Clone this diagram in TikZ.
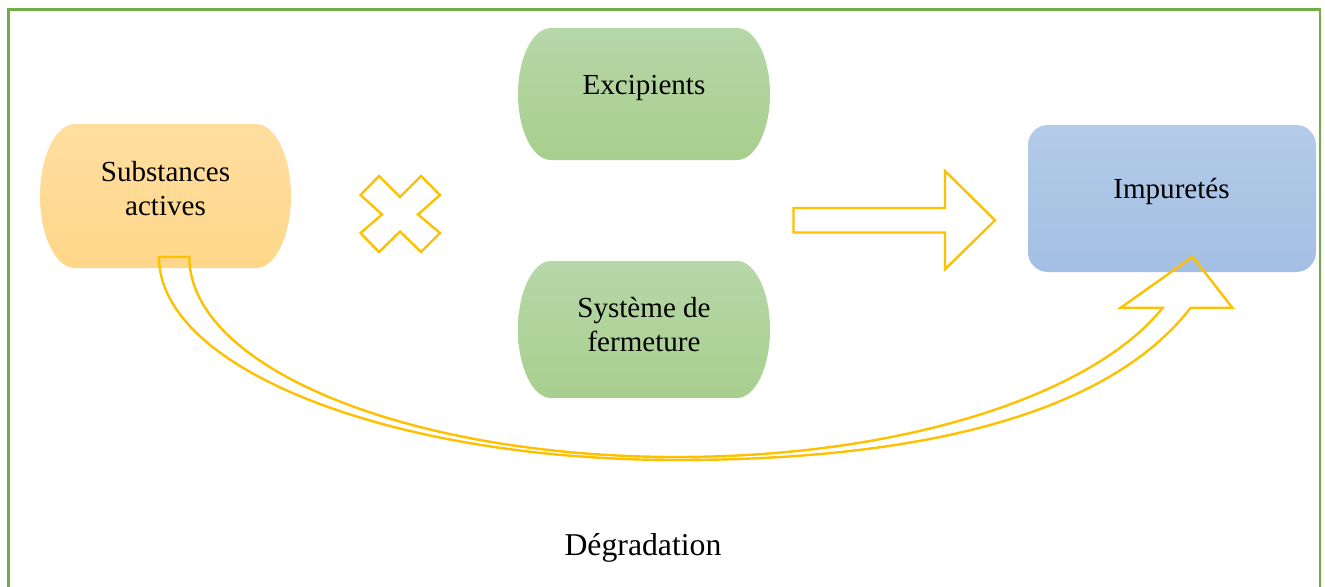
\documentclass[tikz,border=0pt]{standalone}
\usepackage{fontspec}
\setmainfont{Liberation Serif}
\begin{document}
% capsule: flat top and bottom, half-ellipse ends
% #1 style, #2 x1, #3 y1, #4 x2, #5 y2, #6 horizontal radius of the ends
\newcommand\capsule[6]{%
  \path[#1] ({#2+#6},#3) -- ({#4-#6},#3)
    .. controls ({#4-0.448*#6},#3) and (#4,{#3+0.224*(#5-#3)}) .. (#4,{(#3+#5)/2})
    .. controls (#4,{#5-0.224*(#5-#3)}) and ({#4-0.448*#6},#5) .. ({#4-#6},#5)
    -- ({#2+#6},#5)
    .. controls ({#2+0.448*#6},#5) and (#2,{#5-0.224*(#5-#3)}) .. (#2,{(#3+#5)/2})
    .. controls (#2,{#3+0.224*(#5-#3)}) and ({#2+0.448*#6},#3) .. cycle;}
\definecolor{frameg}{HTML}{70AD47}
\definecolor{arrowy}{HTML}{FFC000}
\definecolor{orangeT}{HTML}{FFDEA0}
\definecolor{orangeB}{HTML}{FFD78A}
\definecolor{greenT}{HTML}{B6D7A8}
\definecolor{greenB}{HTML}{A8CF8E}
\definecolor{blueT}{HTML}{B4CBE8}
\definecolor{blueB}{HTML}{A3BFE3}
\begin{tikzpicture}[x=0.75pt,y=-0.75pt,
  lbl/.style={font=\fontsize{21.8}{25.5}\selectfont, align=center, inner sep=0pt},
  outlinearrow/.style={draw=arrowy, line width=1.8pt, line join=miter}]
\useasboundingbox (0,0) rectangle (1325,586);
% frame
\draw[frameg, line width=1.9pt] (8.3,9.5) rectangle (1320,640);

% rounded boxes
\capsule{top color=orangeT, bottom color=orangeB}{40}{124}{291}{268}{35}
\capsule{top color=greenT, bottom color=greenB}{518}{28}{770}{160}{33}
\capsule{top color=greenT, bottom color=greenB}{518}{261}{770}{398}{33}
\path[top color=blueT, bottom color=blueB, rounded corners=15pt]
  (1028,125) rectangle (1316,272);

% labels
\node[lbl] (subst) at (165.5,189) {Substances\\actives};
\node[lbl] (excip) at (644,88) {Excipients};
\node[lbl] (ferm)  at (644,324.5) {Système de\\fermeture};
\node[lbl] (imp)   at (1171.5,191) {Impuretés};
\node[lbl, font=\fontsize{23.8}{28}\selectfont] (degr) at (643,548) {Dégradation};

% cross between the reactants
\draw[outlinearrow] (379,176) -- (400,197) -- (421,176) -- (440,195) -- (418,214.5)
  -- (440,233) -- (421,252) -- (400,231.5) -- (379,252) -- (360.5,233) -- (382,214.5)
  -- (360.5,195) -- cycle;

% block arrow towards the impurities
\draw[outlinearrow] (793.5,208) -- (945,208) -- (945,171) -- (995,220.3)
  -- (945,269.3) -- (945,232.5) -- (793.5,232.5) -- cycle;

% curved block arrow: degradation path
\draw[outlinearrow]
  (159,257) .. controls (159,369) and (391,460) .. (677,460)
  .. controls (927,460) and (1110,412) .. (1190.7,307.7)
  -- (1232.3,307.7) -- (1192.7,256.7) -- (1120.7,307.7) -- (1162.7,307.7)
  .. controls (1095,393) and (907,457) .. (677,457)
  .. controls (407.8,457) and (189.3,367.4) .. (189.3,257) -- cycle;
\end{tikzpicture}
\end{document}
